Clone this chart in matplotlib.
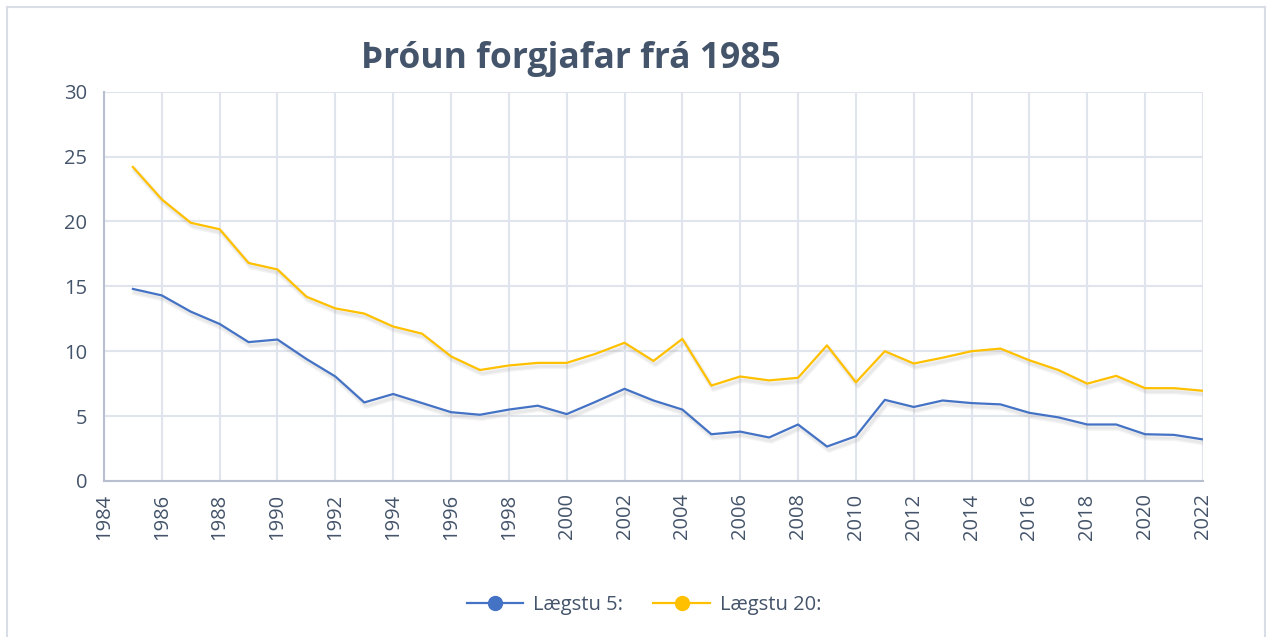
import numpy as np
import matplotlib
matplotlib.use('Agg')
import matplotlib.pyplot as plt
import matplotlib.patheffects as pe
from matplotlib.patches import Rectangle

# gogn lesin af myndinni
ar = list(range(1985, 2023))
laegstu_5 = [14.8, 14.3, 13.05, 12.1, 10.7, 10.9, 9.4, 8.05, 6.05, 6.7,
             6.0, 5.3, 5.1, 5.5, 5.8, 5.15, 6.1, 7.1, 6.2, 5.5,
             3.6, 3.8, 3.35, 4.35, 2.65, 3.45, 6.25, 5.7, 6.2, 6.0,
             5.9, 5.25, 4.9, 4.35, 4.35, 3.6, 3.55, 3.2]
laegstu_20 = [24.2, 21.7, 19.9, 19.4, 16.8, 16.3, 14.2, 13.3, 12.9, 11.9,
              11.35, 9.6, 8.55, 8.9, 9.1, 9.1, 9.8, 10.65, 9.25, 10.95,
              7.35, 8.05, 7.75, 7.95, 10.45, 7.6, 10.0, 9.05, 9.5, 10.0,
              10.2, 9.3, 8.55, 7.5, 8.1, 7.15, 7.15, 6.95]
x_ticks = list(range(1984, 2023, 2))
y_ticks = [0, 5, 10, 15, 20, 25, 30]

blar = '#4472C4'
gulur = '#FFC000'
texti = '#44546A'
grind = '#E0E4EC'

plt.rcParams['font.family'] = ['Open Sans', 'DejaVu Sans']

fig = plt.figure(figsize=(12.68, 6.37), dpi=100)
ax = fig.add_axes([0.082, 0.245, 0.8667, 0.611])

# mjukur skuggi undir linunum
skuggi = [pe.SimpleLineShadow(offset=(1.5, -2.5), shadow_color='#a0a0a0', alpha=0.12, linewidth=4),
          pe.SimpleLineShadow(offset=(1.5, -2.5), shadow_color='#a0a0a0', alpha=0.12, linewidth=2),
          pe.Normal()]
ax.plot(ar, laegstu_5, color=blar, lw=1.6, label='Lægstu 5:', path_effects=skuggi)
ax.plot(ar, laegstu_20, color=gulur, lw=1.6, label='Lægstu 20:', path_effects=skuggi)

ax.set_xlim(1984, 2022)
ax.set_ylim(0, 30)
ax.set_xticks(x_ticks)
ax.set_yticks(y_ticks)
ax.tick_params(axis='x', labelrotation=90, length=0, pad=9, labelsize=14.5, labelcolor=texti)
ax.tick_params(axis='y', length=0, pad=12, labelsize=14.5, labelcolor=texti)
ax.grid(True, color=grind, lw=1.5)
ax.set_axisbelow(True)
for s in ['top', 'right']:
    ax.spines[s].set_visible(False)
for s in ['left', 'bottom']:
    ax.spines[s].set_color('#B8C0D0')
    ax.spines[s].set_linewidth(1.5)

fig.text(0.45, 0.907, 'Þróun forgjafar frá 1985', ha='center', va='center',
         fontsize=25.5, fontweight='bold', color=texti)

# tákn í skýringu med punktum
h1, = ax.plot([], [], color=blar, lw=1.6, marker='o', markersize=10)
h2, = ax.plot([], [], color=gulur, lw=1.6, marker='o', markersize=10)
fig.legend([h1, h2], ['Lægstu 5:', 'Lægstu 20:'], ncol=2, frameon=False,
           loc='center', bbox_to_anchor=(0.508, 0.05), fontsize=14.5,
           labelcolor=texti, handlelength=2.8, columnspacing=1.5, handletextpad=0.5)

# rammi utan um myndina
fig.patches.append(Rectangle((0.0055, -0.01), 0.992, 0.999, transform=fig.transFigure,
                             fill=False, edgecolor='#D9DEE6', lw=1.5))

fig.savefig('out.png', dpi=100)
